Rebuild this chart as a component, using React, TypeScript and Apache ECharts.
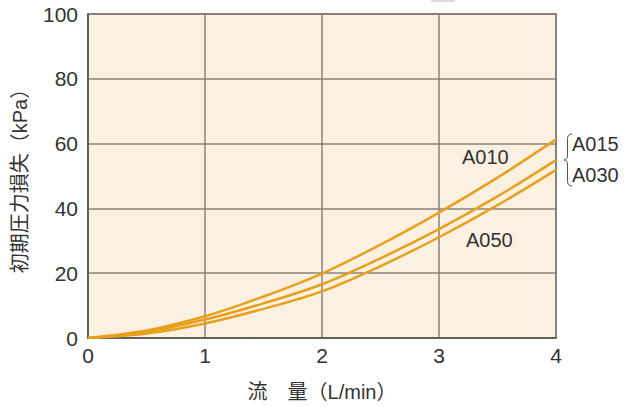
import React, { useEffect, useRef } from "react";
import * as echarts from "echarts";

const flow = [0, 0.5, 1, 1.5, 2, 2.5, 3, 3.5, 4];
const seriesTop = [0, 2.3, 6.7, 12.8, 19.9, 28.8, 38.7, 49.5, 61.3];
const seriesMid = [0, 1.9, 5.7, 10.7, 16.6, 24.6, 33.6, 43.7, 54.9];
const seriesBot = [0, 1.4, 4.5, 9.0, 14.4, 22.2, 31.1, 41.0, 51.9];
const seriesNames = ["A010", "A015/A030", "A050"];
const xTicks = { min: 0, max: 4, interval: 1 };
const yTicks = { min: 0, max: 100, interval: 20 };

const FONT = "'Liberation Sans', 'Noto Sans CJK JP', sans-serif";
const LINE = "#e6a01e";

let registered = false;
function registerBrace() {
  if (registered) return;
  registered = true;
  const d =
    "M572,134 Q567.5,134 567.5,139 L567.5,155 Q567.5,160 564,160 Q567.5,160 567.5,165 L567.5,181 Q567.5,186 572,186";
  echarts.graphic.registerShape("brace", echarts.graphic.extendPath(d, {}) as any);
}

export default function App() {
  const ref = useRef<HTMLDivElement>(null);
  useEffect(() => {
    if (!ref.current) return;
    registerBrace();
    const chart = echarts.init(ref.current, undefined, { renderer: "svg" });
    const mk = (vals: number[], name: string) => ({
      type: "line",
      name,
      data: flow.map((x, i) => [x, vals[i]]),
      smooth: 0.35,
      showSymbol: false,
      lineStyle: { color: LINE, width: 2.5 },
    });
    chart.setOption({
      animation: false,
      textStyle: { fontFamily: FONT },
      grid: {
        left: 88,
        right: 68,
        top: 14,
        bottom: 65,
        show: true,
        backgroundColor: "#fcf1e1",
        borderColor: "#555",
        borderWidth: 1.5,
      },
      xAxis: {
        type: "value",
        ...xTicks,
        name: "流\u3000量（L/min）",
        nameLocation: "middle",
        nameGap: 44,
        nameTextStyle: { fontSize: 20, color: "#333", fontFamily: FONT },
        axisLine: { show: true, lineStyle: { color: "#555", width: 1.5 } },
        axisTick: { show: false },
        axisLabel: { fontSize: 21, color: "#333", margin: 7, fontFamily: FONT },
        splitLine: { show: true, lineStyle: { color: "#8a817a", width: 1.5 } },
      },
      yAxis: {
        type: "value",
        ...yTicks,
        name: "初期圧力損失（kPa）",
        nameLocation: "middle",
        nameGap: 58,
        nameRotate: 90,
        nameTextStyle: { fontSize: 20, color: "#333", fontFamily: FONT },
        axisLine: { show: true, lineStyle: { color: "#555", width: 1.5 } },
        axisTick: { show: false },
        axisLabel: { fontSize: 21, color: "#333", margin: 10, fontFamily: FONT },
        splitLine: { show: true, lineStyle: { color: "#8a817a", width: 1.5 } },
      },
      series: [
        mk(seriesTop, seriesNames[0]),
        mk(seriesMid, seriesNames[1]),
        mk(seriesBot, seriesNames[2]),
      ],
      graphic: [
        { type: "rect", shape: { x: 431, y: 0, width: 24, height: 2 }, style: { fill: "#dcdcdc" } },
        { type: "text", x: 462, y: 147, style: { text: "A010", fontSize: 20, fill: "#333", fontFamily: FONT } },
        { type: "text", x: 466, y: 230, style: { text: "A050", fontSize: 20, fill: "#333", fontFamily: FONT } },
        { type: "text", x: 572, y: 134, style: { text: "A015", fontSize: 20, fill: "#333", fontFamily: FONT } },
        { type: "text", x: 572, y: 165, style: { text: "A030", fontSize: 20, fill: "#333", fontFamily: FONT } },
        { type: "brace", x: 0, y: 0, style: { stroke: "#555", lineWidth: 1, fill: "none" } },
      ],
    });
    return () => chart.dispose();
  }, []);
  return (
    <div
      ref={ref}
      style={{ position: "fixed", left: 0, top: 0, width: 624, height: 407, background: "#fff" }}
    />
  );
}
